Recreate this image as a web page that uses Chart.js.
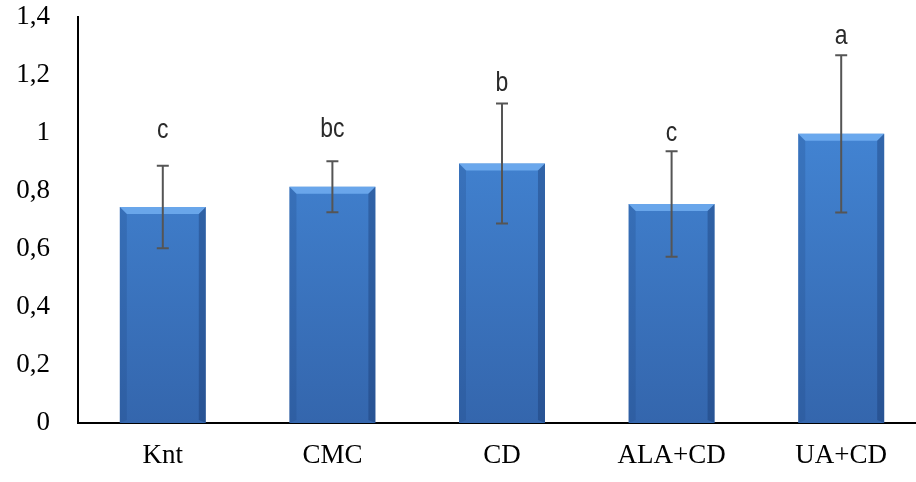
<!DOCTYPE html>
<html>
<head>
<meta charset="utf-8">
<script src="https://cdn.jsdelivr.net/npm/chart.js@4/dist/chart.umd.min.js"></script>
<style>
  html, body { margin: 0; padding: 0; background: #fff; overflow: hidden; }
  #wrap { width: 926px; height: 482px; }
</style>
</head>
<body>
<div id="wrap"><canvas id="barChart"></canvas></div>
<script>
// dados
const categories = ['Knt', 'CMC', 'CD', 'ALA+CD', 'UA+CD'];
const means = [0.745, 0.815, 0.895, 0.755, 0.997];
const errors = [0.142, 0.088, 0.207, 0.182, 0.271];
const letters = ['c', 'bc', 'b', 'c', 'a'];
const yTicks = [0, 0.2, 0.4, 0.6, 0.8, 1, 1.2, 1.4];

// gradiente vertical da barra
function barFill(ctx) {
  const area = ctx.chart.chartArea;
  if (!area) return '#3f7fcc';
  const g = ctx.chart.ctx.createLinearGradient(0, area.top + 100, 0, area.bottom);
  g.addColorStop(0, '#4385d4');
  g.addColorStop(1, '#3466ad');
  return g;
}

// bisel, barras de erro e letras
const errorBarsPlugin = {
  id: 'errorBars',
  afterDatasetsDraw(chart, args, opts) {
    const c = chart.ctx;
    const meta = chart.getDatasetMeta(0);
    const y = chart.scales.y;
    c.save();
    meta.data.forEach((bar, i) => {
      const l = bar.x - bar.width / 2, r = bar.x + bar.width / 2;
      const t = bar.y, b = bar.base, bv = 7;
      // topo claro
      c.fillStyle = 'rgba(120,180,245,0.75)';
      c.beginPath();
      c.moveTo(l, t); c.lineTo(r, t); c.lineTo(r - bv, t + bv); c.lineTo(l + bv, t + bv);
      c.closePath(); c.fill();
      // laterais
      c.fillStyle = 'rgba(30,70,130,0.25)';
      c.beginPath();
      c.moveTo(l, t); c.lineTo(l + bv, t + bv); c.lineTo(l + bv, b - 3); c.lineTo(l, b);
      c.closePath(); c.fill();
      c.fillStyle = 'rgba(20,50,100,0.35)';
      c.beginPath();
      c.moveTo(r, t); c.lineTo(r - bv, t + bv); c.lineTo(r - bv, b - 3); c.lineTo(r, b);
      c.closePath(); c.fill();

      const top = y.getPixelForValue(means[i] + errors[i]);
      const bot = y.getPixelForValue(means[i] - errors[i]);
      c.strokeStyle = '#555';
      c.lineWidth = 2;
      c.beginPath();
      c.moveTo(bar.x, top); c.lineTo(bar.x, bot);
      c.moveTo(bar.x - 6, top); c.lineTo(bar.x + 6, top);
      c.moveTo(bar.x - 6, bot); c.lineTo(bar.x + 6, bot);
      c.stroke();

      // letra (fonte um pouco condensada)
      c.save();
      c.translate(bar.x, top - opts.gaps[i]);
      c.scale(0.82, 1);
      c.fillStyle = '#2a2a2a';
      c.font = '28px "Liberation Sans", Arial, sans-serif';
      c.textAlign = 'center';
      c.textBaseline = 'alphabetic';
      c.fillText(letters[i], 0, 0);
      c.restore();
    });
    c.restore();
  }
};

const ctx = document.getElementById('barChart').getContext('2d');
new Chart(ctx, {
  type: 'bar',
  data: {
    labels: categories,
    datasets: [{
      data: means,
      backgroundColor: barFill,
      borderWidth: 0,
      barPercentage: 0.507,
      categoryPercentage: 1
    }]
  },
  options: {
    responsive: true,
    maintainAspectRatio: false,
    animation: false,
    layout: { padding: { top: 17, right: 0, left: 0, bottom: 0 } },
    plugins: {
      legend: { display: false },
      tooltip: { enabled: false },
      errorBars: { gaps: [28, 24, 12, 10, 11] }
    },
    scales: {
      x: {
        grid: { display: false, drawTicks: false },
        border: { display: true, color: '#000', width: 2 },
        ticks: {
          color: '#000',
          padding: 17,
          font: { family: '"Liberation Serif", "Times New Roman", serif', size: 27 }
        },
        afterFit(scale) { scale.height = 59; scale.paddingLeft = 0; scale.paddingRight = 0; }
      },
      y: {
        min: 0,
        max: 1.4,
        afterBuildTicks(scale) { scale.ticks = yTicks.map(v => ({ value: v })); },
        grid: { display: false, drawTicks: false },
        border: { display: true, color: '#000', width: 2 },
        ticks: {
          color: '#000',
          padding: 28,
          font: { family: '"Liberation Serif", "Times New Roman", serif', size: 27 },
          callback: v => String(Math.round(v * 10) / 10).replace('.', ',')
        },
        afterFit(scale) { scale.width = 78; scale.paddingTop = 0; scale.paddingBottom = 0; }
      }
    }
  },
  plugins: [errorBarsPlugin]
});
</script>
</body>
</html>
